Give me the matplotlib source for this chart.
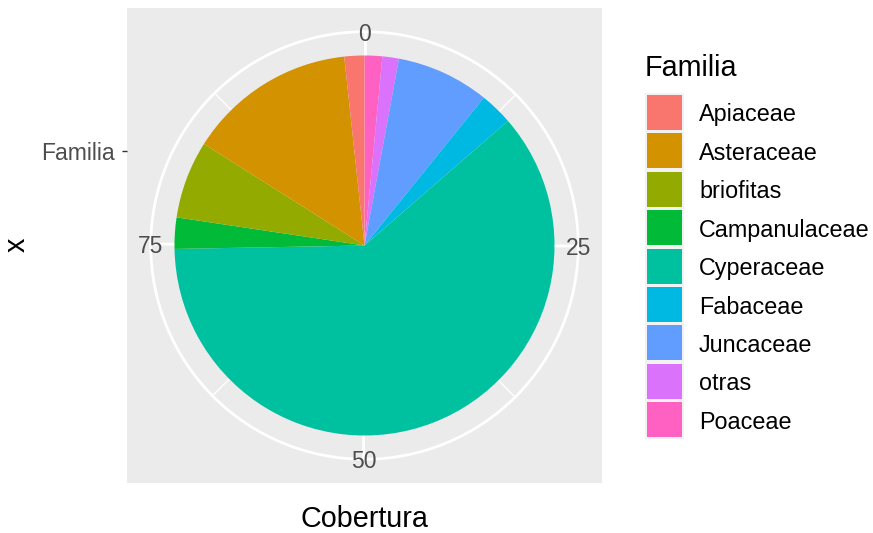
import numpy as np
import matplotlib.pyplot as plt
from matplotlib.patches import Rectangle, Circle

plt.rcParams['font.family'] = ['Liberation Sans', 'DejaVu Sans']

# data (Cobertura per Familia), legend order
familias = ['Apiaceae', 'Asteraceae', 'briofitas', 'Campanulaceae', 'Cyperaceae',
            'Fabaceae', 'Juncaceae', 'otras', 'Poaceae']
cobertura = [1.7, 14.3, 6.6, 2.65, 61.0, 2.8, 7.9, 1.4, 1.5]
colores = ['#F8766D', '#D39200', '#93AA00', '#00BA38', '#00C19F',
           '#00B9E3', '#619CFF', '#DB72FB', '#FF61C3']
theta_major = [0, 25, 50, 75]
theta_minor = [12.5, 37.5, 62.5, 87.5]

W, H = 873, 533
fig = plt.figure(figsize=(W / 100, H / 100), dpi=100)

# panel in pixels
px0, py0, px1, py1 = 127, 8, 602, 483
ax = fig.add_axes([px0 / W, (H - py1) / H, (px1 - px0) / W, (py1 - py0) / H])
ax.set_facecolor('#EBEBEB')

total = sum(cobertura)
# ggplot stacks the first level on top -> clockwise from 12 o'clock goes last level first
wedges, _ = ax.pie(cobertura[::-1], colors=colores[::-1], startangle=90,
                   counterclock=False, radius=0.4, center=(0.5, 0.5), frame=True,
                   wedgeprops=dict(linewidth=0, edgecolor='none', antialiased=True))
for w in wedges:
    w.set_zorder(2)

def polar(v, r):
    a = np.deg2rad(v / total * 360.0)
    return 0.5 + r * np.sin(a), 0.5 + r * np.cos(a)

# grid
for v in theta_minor:
    x, y = polar(v, 0.45)
    ax.plot([0.5, x], [0.5, y], color='white', lw=1.0, zorder=1)
for v in theta_major:
    x, y = polar(v, 0.45)
    ax.plot([0.5, x], [0.5, y], color='white', lw=2.0, zorder=1)
ax.add_patch(Circle((0.5, 0.5), 0.45, fill=False, ec='white', lw=2.0, zorder=1))
ax.add_patch(Circle((0.5, 0.5), 0.2, fill=False, ec='white', lw=2.0, zorder=1))

for v in theta_major:
    x, y = polar(v, 0.45)
    ax.text(x, y, str(v), ha='center', va='center_baseline', fontsize=16.5,
            color='#4D4D4D', zorder=3)

ax.set_xlim(0, 1)
ax.set_ylim(0, 1)
for s in ax.spines.values():
    s.set_visible(False)
ax.set_xticks([])
ax.set_yticks([0.7], ['Familia'])
ax.tick_params(axis='y', length=3.6, width=1.0, color='#333333',
               labelsize=16.5, labelcolor='#4D4D4D', pad=5.5)

# axis titles
fig.text(364 / W, 1 - 527 / H, 'Cobertura', ha='center', va='baseline',
         fontsize=20.7, color='black')
fig.text(17 / W, 1 - 245 / H, 'x', ha='center', va='center', rotation=90,
         fontsize=20.7, color='black')

# legend
lg = fig.add_axes([0, 0, 1, 1])
lg.set_xlim(0, W)
lg.set_ylim(H, 0)
lg.axis('off')
lg.patch.set_alpha(0)
lg.text(645, 76, 'Familia', ha='left', va='baseline', fontsize=20.7, color='black')
key_top, key_step, key_size = 95, 38.4, 35
lg.add_patch(Rectangle((645, key_top - 1.7), 39, key_step * len(familias),
                       fc='#F2F2F2', ec='none'))
for i, (fam, col) in enumerate(zip(familias, colores)):
    y = key_top + i * key_step
    lg.add_patch(Rectangle((647, y), key_size, key_size, fc=col, ec='none'))
    lg.text(699, y + key_size / 2, fam, ha='left', va='center_baseline',
            fontsize=16.8, color='black')

fig.savefig('out.png', dpi=100)
